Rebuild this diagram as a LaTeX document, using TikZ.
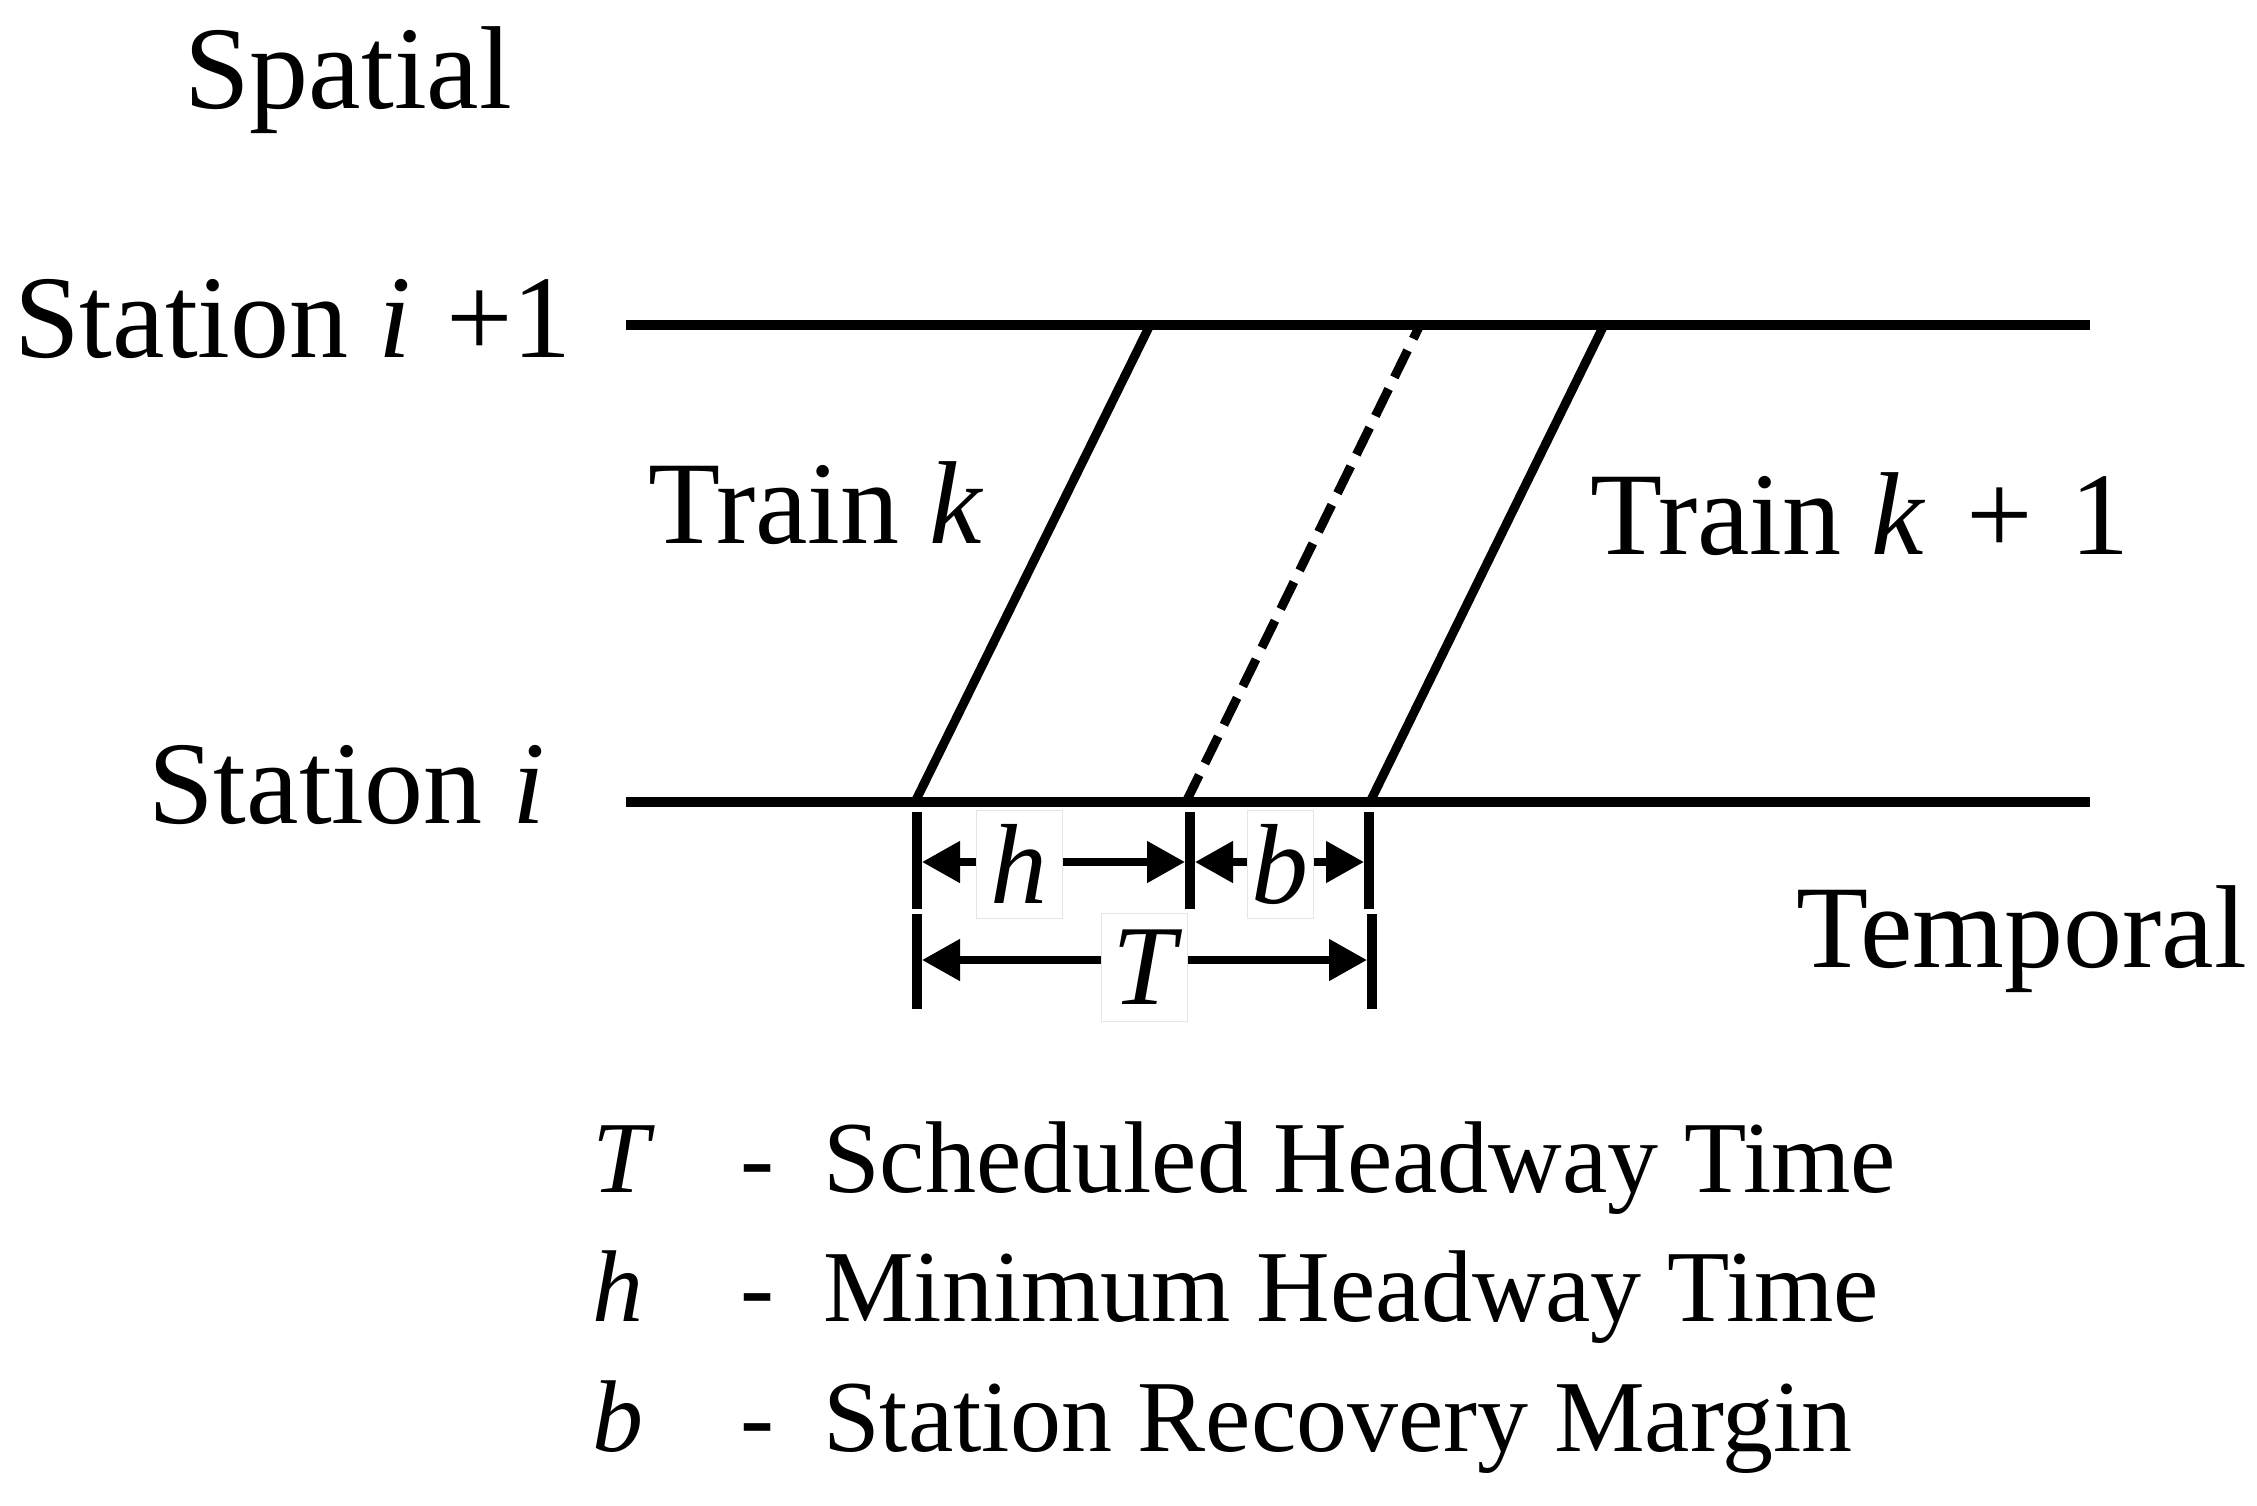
\documentclass[tikz,border=0pt]{standalone}
\usepackage{fontspec}
\setmainfont{Liberation Serif}
\usetikzlibrary{arrows.meta}
\begin{document}
\begin{tikzpicture}[x=1pt,y=-1pt,
  track/.style={line width=10pt},
  trainline/.style={line width=9pt},
  tick/.style={line width=10.5pt},
  dimarrow/.style={line width=8pt,-{Triangle[length=38pt,width=40pt]}},
  lbl/.style={inner sep=0pt,font=\fontsize{118}{124}\selectfont},
  leg/.style={inner sep=0pt,font=\fontsize{102}{110}\selectfont},
  dimlbl/.style={fill=white,draw=black!10,line width=1pt,inner sep=0pt,
     minimum width=86pt,minimum height=108pt,font=\fontsize{114}{120}\selectfont\itshape}]
\useasboundingbox (0,0) rectangle (2257,1505);
\fill[white] (0,0) rectangle (2257,1505);
% tracks
\coordinate (t1) at (626,325);
\coordinate (t2) at (2090,325);
\coordinate (b1) at (626,802);
\coordinate (b2) at (2090,802);
\draw[track] (t1) -- (t2);
\draw[track] (b1) -- (b2);
% train lines
\coordinate (kb) at (915,802);
\coordinate (kt) at (1150,325);
\coordinate (db) at (1186,802);
\coordinate (dt) at (1420,325);
\coordinate (nb) at (1370,802);
\coordinate (nt) at (1604,325);
\draw[trainline] (kb) -- (kt);
\draw[trainline,dash pattern=on 30pt off 13pt] (db) -- (dt);
\draw[trainline] (nb) -- (nt);
% ticks
\coordinate (k1a) at (917,812);
\coordinate (k1b) at (917,909);
\coordinate (k2a) at (1190,812);
\coordinate (k2b) at (1190,909);
\coordinate (k3a) at (1369,812);
\coordinate (k3b) at (1369,909);
\coordinate (k4a) at (917,914);
\coordinate (k4b) at (917,1009);
\coordinate (k5a) at (1372,914);
\coordinate (k5b) at (1372,1009);
\draw[tick] (k1a) -- (k1b);
\draw[tick] (k2a) -- (k2b);
\draw[tick] (k3a) -- (k3b);
\draw[tick] (k4a) -- (k4b);
\draw[tick] (k5a) -- (k5b);
% dimension labels
\node[dimlbl] (hl) at (1019,864) {h};
\node[dimlbl,minimum width=66pt] (bl) at (1280,864) {b};
\node[dimlbl] (Tl) at (1144,967) {T};
\coordinate (h1) at (922,862);
\coordinate (h2) at (1185,862);
\coordinate (b1e) at (1195,862);
\coordinate (b2e) at (1364,862);
\coordinate (T1) at (922,960);
\coordinate (T2) at (1367,960);
\draw[dimarrow] (hl.west |- h1) -- (h1);
\draw[dimarrow] (hl.east |- h2) -- (h2);
\draw[dimarrow] (bl.west |- b1e) -- (b1e);
\draw[dimarrow] (bl.east |- b2e) -- (b2e);
\draw[dimarrow] (Tl.west |- T1) -- (T1);
\draw[dimarrow] (Tl.east |- T2) -- (T2);
% labels
\node[lbl,anchor=base west] (sp) at (184,108) {Spatial};
\node[lbl,anchor=base west] (s2) at (14,357) {Station \textit{i}\hspace{0.05em} +1};
\node[lbl,anchor=base west] (s1) at (148,823) {Station \textit{i}};
\node[lbl,anchor=base west] (tk) at (648,543) {Train \textit{k}};
\node[lbl,anchor=base west] (tk1) at (1590,554) {Train \textit{k}\hspace{0.1em} + \hspace{0.07em}1};
\node[lbl,anchor=base west] (tmp) at (1796,967) {Temporal};
% legend
\node[leg,anchor=base west] (l1s) at (592,1192) {\textit{T}};
\node[leg,anchor=base west] (l1d) at (740,1192) {-};
\node[leg,anchor=base west] (l1t) at (823,1192) {Scheduled Headway Time};
\node[leg,anchor=base west] (l2s) at (592,1321) {\textit{h}};
\node[leg,anchor=base west] (l2d) at (740,1321) {-};
\node[leg,anchor=base west] (l2t) at (823,1321) {Minimum Headway Time};
\node[leg,anchor=base west] (l3s) at (592,1451) {\textit{b}};
\node[leg,anchor=base west] (l3d) at (740,1451) {-};
\node[leg,anchor=base west] (l3t) at (823,1451) {Station Recovery Margin};
\end{tikzpicture}
\end{document}
